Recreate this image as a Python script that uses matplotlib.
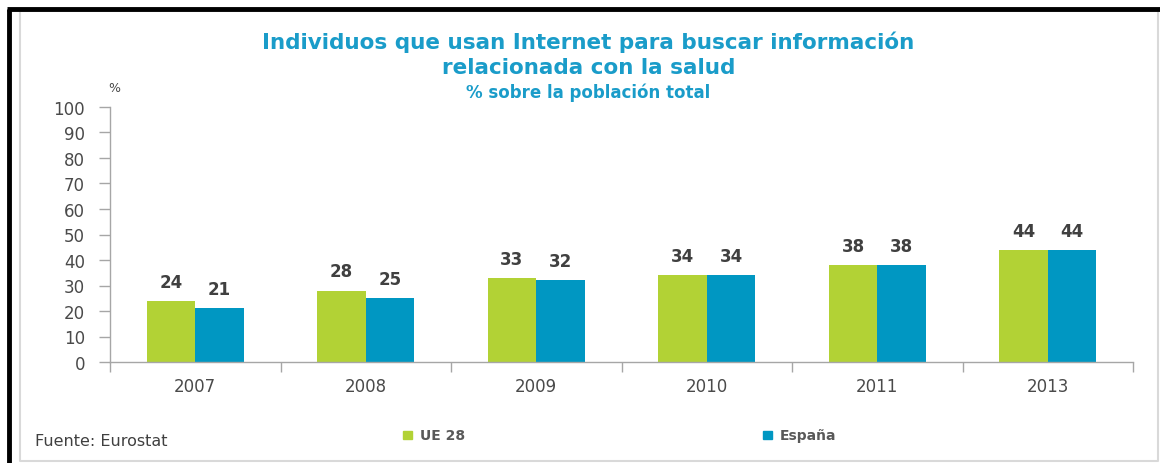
import matplotlib
matplotlib.use("Agg")
import matplotlib.pyplot as plt
from matplotlib.patches import Rectangle
from matplotlib.lines import Line2D

years = ["2007", "2008", "2009", "2010", "2011", "2013"]
ue28 = [24, 28, 33, 34, 38, 44]
espana = [21, 25, 32, 34, 38, 44]
series_names = ["UE 28", "España"]
yticks = [0, 10, 20, 30, 40, 50, 60, 70, 80, 90, 100]

GREEN = "#b2d235"
BLUE = "#0097c2"
TITLE = "#1a9cc9"
TXT = "#404040"
TICK = "#4a4a4a"

plt.rcParams["font.family"] = ["DejaVu Sans"]

W, H = 1160, 464
fig = plt.figure(figsize=(W / 100, H / 100), dpi=100)

def fx(px):
    return px / W

def fy(py):
    return 1 - py / H

# frames
fig.add_artist(Line2D([fx(20), fx(1158), fx(1158), fx(20), fx(20)],
                      [fy(12), fy(12), fy(462), fy(462), fy(12)],
                      color="#d9d9d9", lw=1.5, transform=fig.transFigure))
fig.add_artist(Line2D([fx(9), fx(9)], [fy(464), fy(10)], color="black", lw=3.5,
                      transform=fig.transFigure, solid_capstyle="butt"))
fig.add_artist(Line2D([fx(7), fx(1160)], [fy(10), fy(10)], color="black", lw=3.5,
                      transform=fig.transFigure, solid_capstyle="butt"))

ax = fig.add_axes([fx(110), fy(363), fx(1133) - fx(110), fy(108) - fy(363)])
n = len(years)
x = list(range(n))
bw = 0.285
ax.bar([i - bw / 2 for i in x], ue28, width=bw, color=GREEN, label=series_names[0])
ax.bar([i + bw / 2 for i in x], espana, width=bw, color=BLUE, label=series_names[1])

for i in x:
    ax.text(i - bw / 2, ue28[i] + 4.0, str(ue28[i]), ha="center", va="bottom",
            fontsize=12, fontweight="bold", color=TXT)
    ax.text(i + bw / 2, espana[i] + 4.0, str(espana[i]), ha="center", va="bottom",
            fontsize=12, fontweight="bold", color=TXT)

ax.set_xlim(-0.5, n - 0.5)
ax.set_ylim(0, 100)
ax.set_yticks(yticks)
ax.set_yticklabels([str(v) for v in yticks], fontsize=12, color=TICK)
ax.tick_params(axis="y", length=8, width=1, color="#a6a6a6", pad=10)
ax.set_xticks([i - 0.5 for i in range(n + 1)], minor=False)
ax.set_xticklabels([""] * (n + 1))
ax.tick_params(axis="x", length=7, width=1, color="#a6a6a6")
ax.set_xticks(x, minor=True)
ax.set_xticklabels(years, minor=True, fontsize=12, color=TICK)
ax.tick_params(axis="x", which="minor", length=0, pad=11)
for s in ["top", "right"]:
    ax.spines[s].set_visible(False)
for s in ["left", "bottom"]:
    ax.spines[s].set_color("#a6a6a6")
    ax.spines[s].set_linewidth(1)

fig.text(fx(114), fy(89), "%", fontsize=9, color=TICK, ha="center", va="center")

fig.text(fx(588), fy(42), "Individuos que usan Internet para buscar información",
         fontsize=15.5, fontweight="bold", color=TITLE, ha="center", va="center")
fig.text(fx(589), fy(68), "relacionada con la salud",
         fontsize=15.5, fontweight="bold", color=TITLE, ha="center", va="center")
fig.text(fx(588), fy(93), "% sobre la población total",
         fontsize=12, fontweight="bold", color=TITLE, ha="center", va="center")

fig.text(fx(35), fy(441), "Fuente: Eurostat", fontsize=11.5, color=TXT,
         ha="left", va="center")

fig.add_artist(Rectangle((fx(403), fy(440)), fx(9), 8 / H, color=GREEN,
                         transform=fig.transFigure))
fig.text(fx(420), fy(436), series_names[0], fontsize=10, color="#595959",
         ha="left", va="center", fontweight="semibold")
fig.add_artist(Rectangle((fx(763), fy(440)), fx(9), 8 / H, color=BLUE,
                         transform=fig.transFigure))
fig.text(fx(780), fy(436), series_names[1], fontsize=10, color="#595959",
         ha="left", va="center", fontweight="semibold")

fig.savefig("out.png", dpi=100, facecolor="white")
